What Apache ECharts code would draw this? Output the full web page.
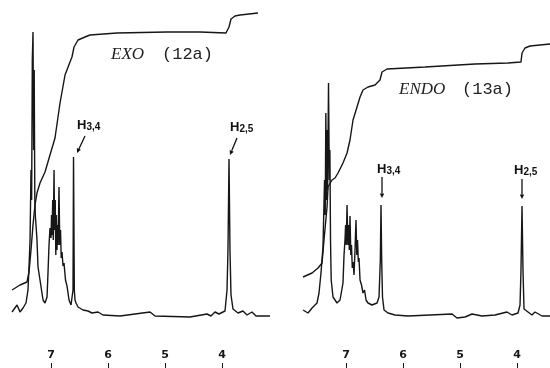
<!DOCTYPE html>
<html>
<head>
<meta charset="utf-8">
<script src="https://cdn.jsdelivr.net/npm/echarts@6/dist/echarts.min.js"></script>
<style>
  html, body { margin: 0; padding: 0; background: #fff; }
  #chart { width: 550px; height: 368px; }
</style>
</head>
<body>
<div id="chart"></div>
<script>
// chemical shift ticks (ppm)
let tickValues = [7, 6, 5, 4];

// EXO (12a) spectrum, ppm vs intensity (arb. units)
let exoPpm = [7.684, 7.596, 7.544, 7.491, 7.439, 7.404, 7.386, 7.368, 7.351, 7.340, 7.328, 7.316, 7.305, 7.295,
  7.284, 7.274, 7.263, 7.246, 7.228, 7.193, 7.140, 7.105,
  7.070, 7.053, 7.035, 7.018, 7.000, 6.991, 6.982, 6.970, 6.960, 6.947, 6.937, 6.926, 6.916, 6.905, 6.895,
  6.884, 6.874, 6.860, 6.846, 6.833, 6.821, 6.807, 6.789, 6.772, 6.746, 6.719, 6.684, 6.649,
  6.632, 6.614, 6.605, 6.591, 6.579, 6.561, 6.526, 6.439,
  6.351, 6.281, 6.175, 6.088, 5.789, 5.263, 5.175, 4.561, 4.263, 4.193, 4.123, 4.053, 3.947, 3.912, 3.895,
  3.877, 3.860, 3.842, 3.807, 3.719, 3.632, 3.561, 3.474, 3.404, 3.158];
let exoInt = [4, 11, 4, 8, 13, 26, 49, 76, 146, 116, 256, 284, 166, 246,
  116, 99, 91, 76, 49, 36, 16, 13,
  19, 43, 71, 88, 78, 101, 81, 116, 76, 146, 86, 116, 61, 101, 66,
  91, 71, 129, 71, 86, 58, 64, 50, 53, 36, 30, 16, 11,
  13, 26, 159, 26, 16, 13, 9, 6,
  5, 3, 4, 1, 0, 4, 0, -1, 2, 0, 4, 2, 5, 26, 66,
  157, 66, 21, 7, 3, 5, 1, 4, 0, 0];

// EXO (12a) integral trace
let exoIntegPpm = [7.684, 7.544, 7.421, 7.386, 7.351, 7.316, 7.281, 7.246, 7.193, 7.105, 7.018, 6.930, 6.842,
  6.754, 6.667, 6.632, 6.596, 6.526, 6.404, 6.316, 5.842, 4.965, 4.386, 3.930, 3.877, 3.842, 3.772, 3.684, 3.368];
let exoInteg = [26, 31, 34, 44, 66, 91, 111, 123, 133, 144, 161, 178, 213,
  241, 254, 259, 269, 276, 279, 281, 283, 284, 284, 283, 289, 297, 300, 301, 303];

// ENDO (13a) spectrum
let endoPpm = [7.754, 7.667, 7.596, 7.509, 7.474, 7.439, 7.404, 7.377, 7.365, 7.354, 7.342, 7.333, 7.323,
  7.307, 7.293, 7.283, 7.272, 7.260, 7.228, 7.158, 7.105,
  7.053, 7.035, 7.018, 7.007, 6.996, 6.982, 6.968, 6.956, 6.942, 6.930, 6.916, 6.904, 6.890, 6.874, 6.860,
  6.842, 6.825, 6.811, 6.798, 6.784, 6.772, 6.754, 6.728, 6.702, 6.675, 6.649, 6.614,
  6.544, 6.456, 6.421, 6.398, 6.386, 6.374,
  6.360, 6.333, 6.263, 6.140, 5.912, 5.526, 5.140, 5.053, 4.912, 4.789, 4.614, 4.386, 4.175, 4.088, 3.982,
  3.947, 3.930, 3.912, 3.895, 3.877, 3.807, 3.737, 3.684, 3.561, 3.421];
let endoInt = [6, 3, 8, 13, 23, 43, 69, 136, 101, 203, 116, 186, 126,
  233, 136, 166, 76, 36, 19, 13, 16,
  33, 61, 76, 91, 71, 111, 71, 91, 66, 100, 61, 71, 48, 54, 41,
  66, 96, 61, 76, 54, 58, 36, 31, 23, 26, 16, 13,
  11, 13, 19, 56, 111, 56,
  19, 6, 3, 1, 0, 1, 2, -2, -1, 2, 0, 1, 4, 1, 3,
  11, 46, 110, 46, 7, 4, 1, 4, 0, 0];

// ENDO (13a) integral trace
let endoIntegPpm = [7.754, 7.596, 7.491, 7.421, 7.386, 7.333, 7.316, 7.246, 7.193, 7.140, 7.053, 6.982, 6.930,
  6.877, 6.807, 6.754, 6.702, 6.614, 6.491, 6.404, 6.368, 6.281, 5.614, 4.737, 4.158, 3.930, 3.912, 3.860,
  3.772, 3.421];
let endoInteg = [39, 43, 48, 53, 76, 109, 129, 136, 138, 143, 153, 163, 176,
  196, 209, 219, 226, 229, 231, 236, 244, 247, 249, 252, 253, 254, 263, 268,
  270, 272];

let pairs = (xs, ys) => xs.map((x, i) => [x, ys[i]]);

let ink = '#161616';

let xAxisFor = (idx, min, max) => ({
    type: 'value',
    gridIndex: idx,
    inverse: true,
    min: min,
    max: max,
    position: 'bottom',
    axisLine: { show: false, onZero: false },
    splitLine: { show: false },
    axisTick: {
        show: true,
        inside: true,
        length: 5,
        customValues: tickValues,
        lineStyle: { color: ink, width: 1 }
    },
    axisLabel: {
        show: true,
        inside: true,
        margin: 7,
        customValues: tickValues,
        color: ink,
        fontFamily: 'DejaVu Sans',
        fontWeight: 'bold',
        fontSize: 11
    }
});

let yAxisFor = idx => ({
    type: 'value',
    gridIndex: idx,
    min: -52,
    max: 316,
    show: false
});

let lineSeries = (idx, data) => ({
    type: 'line',
    xAxisIndex: idx,
    yAxisIndex: idx,
    data: data,
    showSymbol: false,
    smooth: false,
    lineStyle: { color: ink, width: 1.4 },
    silent: true
});

let titleStyle = (text, family, style) => ({
    text: text,
    fill: '#222',
    font: style + ' 17px ' + family
});

let hLabel = (x, y, sub) => ({
    type: 'text',
    left: x,
    top: y,
    style: {
        text: '{h|H}{s|' + sub + '}',
        rich: {
            h: { fontFamily: 'Liberation Sans', fontWeight: 'bold', fontSize: 13, fill: '#111', verticalAlign: 'bottom' },
            s: { fontFamily: 'Liberation Sans', fontWeight: 'bold', fontSize: 10, fill: '#111', verticalAlign: 'bottom' }
        }
    }
});

let arrow = (x1, y1, x2, y2) => {
    let ang = Math.atan2(y2 - y1, x2 - x1);
    let a = 4.5, w = 2.2;
    let bx = x2 - a * Math.cos(ang), by = y2 - a * Math.sin(ang);
    let px = -Math.sin(ang) * w, py = Math.cos(ang) * w;
    return [
        { type: 'line', shape: { x1: x1, y1: y1, x2: bx, y2: by }, style: { stroke: '#111', lineWidth: 1.3 } },
        { type: 'polygon', shape: { points: [[x2, y2], [bx + px, by + py], [bx - px, by - py]] }, style: { fill: '#111' } }
    ];
};

let option = {
    backgroundColor: '#fff',
    animation: false,
    grid: [
        { left: 0, top: 0, width: 275, height: 368 },
        { left: 275, top: 0, width: 275, height: 368 }
    ],
    xAxis: [xAxisFor(0, 3.07, 7.895), xAxisFor(1, 3.421, 8.246)],
    yAxis: [yAxisFor(0), yAxisFor(1)],
    series: [
        lineSeries(0, pairs(exoPpm, exoInt)),
        lineSeries(0, pairs(exoIntegPpm, exoInteg)),
        lineSeries(1, pairs(endoPpm, endoInt)),
        lineSeries(1, pairs(endoIntegPpm, endoInteg))
    ],
    graphic: [
        { type: 'text', left: 111, top: 46, style: titleStyle('EXO', 'Liberation Serif', 'italic') },
        { type: 'text', left: 162, top: 46, style: titleStyle('(12a)', 'Liberation Mono', 'normal') },
        { type: 'text', left: 399, top: 81, style: titleStyle('ENDO', 'Liberation Serif', 'italic') },
        { type: 'text', left: 462, top: 81, style: titleStyle('(13a)', 'Liberation Mono', 'normal') },
        hLabel(77, 119, '3,4'),
        hLabel(230, 121, '2,5'),
        hLabel(377, 163, '3,4'),
        hLabel(514, 164, '2,5')
    ].concat(
        arrow(85, 136, 77, 153),
        arrow(237, 138, 230, 155),
        arrow(382, 177, 382, 198),
        arrow(522, 179, 522, 199)
    )
};

let mychart = echarts.init(document.getElementById('chart'));
mychart.setOption(option);
</script>
</body>
</html>
